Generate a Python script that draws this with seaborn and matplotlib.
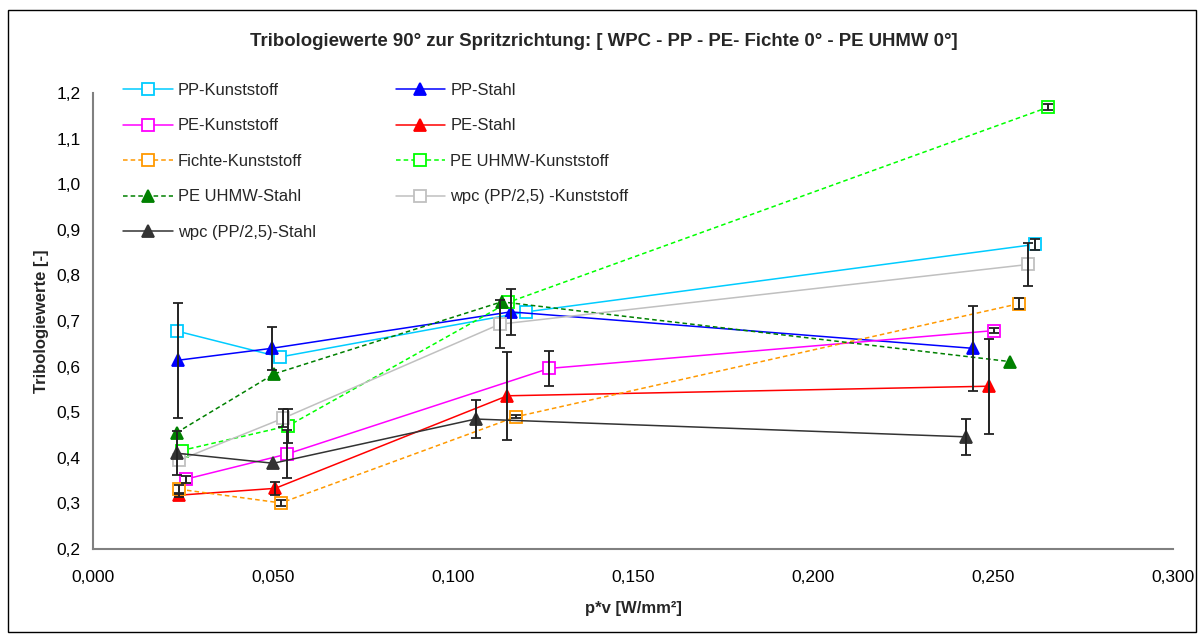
import numpy as np
import pandas as pd
import matplotlib
matplotlib.use("Agg")
import matplotlib.pyplot as plt
import seaborn as sns
from matplotlib.ticker import FuncFormatter, MultipleLocator
from matplotlib.patches import Rectangle

# ---------------- data ----------------
pp_k_x = [0.0233, 0.0519, 0.1203, 0.2617]
pp_k_y = [0.678, 0.621, 0.720, 0.868]
pp_k_e = [0.0, 0.0, 0.0, 0.012]

pp_s_x = [0.0237, 0.0496, 0.1160, 0.2445]
pp_s_y = [0.614, 0.640, 0.720, 0.640]
pp_s_e = [0.126, 0.047, 0.050, 0.093]

pe_k_x = [0.0257, 0.0538, 0.1267, 0.2503]
pe_k_y = [0.353, 0.408, 0.596, 0.679]
pe_k_e = [0.008, 0.053, 0.038, 0.005]

pe_s_x = [0.0239, 0.0506, 0.1151, 0.2489]
pe_s_y = [0.318, 0.333, 0.536, 0.557]
pe_s_e = [0.005, 0.015, 0.097, 0.104]

fi_k_x = [0.0240, 0.0522, 0.1175, 0.2572]
fi_k_y = [0.331, 0.301, 0.490, 0.738]
fi_k_e = [0.010, 0.006, 0.003, 0.012]

uh_k_x = [0.0246, 0.0542, 0.1154, 0.2654]
uh_k_y = [0.416, 0.470, 0.741, 1.169]
uh_k_e = [0.0, 0.037, 0.0, 0.006]

uh_s_x = [0.0232, 0.0503, 0.1135, 0.2547]
uh_s_y = [0.455, 0.584, 0.742, 0.611]
uh_s_e = [0.0, 0.0, 0.0, 0.0]

wpc_k_x = [0.0240, 0.0529, 0.1130, 0.2598]
wpc_k_y = [0.395, 0.487, 0.693, 0.824]
wpc_k_e = [0.0, 0.020, 0.052, 0.047]

wpc_s_x = [0.0234, 0.0501, 0.1063, 0.2424]
wpc_s_y = [0.410, 0.388, 0.485, 0.446]
wpc_s_e = [0.048, 0.0, 0.041, 0.039]

labels = ["PP-Kunststoff", "PP-Stahl", "PE-Kunststoff", "PE-Stahl",
          "Fichte-Kunststoff", "PE UHMW-Kunststoff", "PE UHMW-Stahl",
          "wpc (PP/2,5) -Kunststoff", "wpc (PP/2,5)-Stahl"]

title = "Tribologiewerte 90° zur Spritzrichtung: [ WPC - PP - PE- Fichte 0° - PE UHMW 0°]"
xlabel = "p*v [W/mm²]"
ylabel = "Tribologiewerte [-]"

# ---------------- styling ----------------
sns.set_style("white")
plt.rcParams["font.family"] = ["Liberation Sans", "DejaVu Sans"]

W, H = 1202, 635
fig = plt.figure(figsize=(W / 100, H / 100), dpi=100)
ax = fig.add_axes([93 / W, 1 - 549 / H, (1173 - 93) / W, (549 - 93) / H])

DASH = (0, (3, 2))
styles = [
    # x, y, err, label, color, linestyle, marker, facecolor
    (pp_k_x, pp_k_y, pp_k_e, labels[0], "#00CCFF", "-", "s", "white"),
    (pp_s_x, pp_s_y, pp_s_e, labels[1], "#0000FF", "-", "^", "#0000FF"),
    (pe_k_x, pe_k_y, pe_k_e, labels[2], "#FF00FF", "-", "s", "white"),
    (pe_s_x, pe_s_y, pe_s_e, labels[3], "#FF0000", "-", "^", "#FF0000"),
    (fi_k_x, fi_k_y, fi_k_e, labels[4], "#FF9900", DASH, "s", "white"),
    (uh_k_x, uh_k_y, uh_k_e, labels[5], "#00FF00", DASH, "s", "white"),
    (uh_s_x, uh_s_y, uh_s_e, labels[6], "#008000", DASH, "^", "#008000"),
    (wpc_k_x, wpc_k_y, wpc_k_e, labels[7], "#C0C0C0", "-", "s", "white"),
    (wpc_s_x, wpc_s_y, wpc_s_e, labels[8], "#333333", "-", "^", "#333333"),
]

for x, y, e, lab, col, ls, mk, fc in styles:
    df = pd.DataFrame({"x": x, "y": y})
    ms = 8 if mk == "s" else 9
    sns.lineplot(data=df, x="x", y="y", sort=False, estimator=None, ax=ax,
                 color=col, linestyle=ls, linewidth=1.1, marker=mk,
                 markersize=ms, markerfacecolor=fc, markeredgecolor=col,
                 markeredgewidth=1.3, label=lab, zorder=3)
    ex = [xi for xi, ei in zip(x, e) if ei > 0]
    ey = [yi for yi, ei in zip(y, e) if ei > 0]
    ee = [ei for ei in e if ei > 0]
    if ee:
        ax.errorbar(ex, ey, yerr=ee, fmt="none", ecolor="#222222",
                    elinewidth=1.4, capsize=3.6, capthick=1.3, zorder=4)

ax.set_xlim(0, 0.3)
ax.set_ylim(0.2, 1.2)
ax.xaxis.set_major_locator(MultipleLocator(0.05))
ax.yaxis.set_major_locator(MultipleLocator(0.1))
ax.xaxis.set_major_formatter(FuncFormatter(lambda v, p: f"{v:.3f}".replace(".", ",")))
ax.yaxis.set_major_formatter(FuncFormatter(lambda v, p: f"{v:.1f}".replace(".", ",")))
for s in ["top", "right"]:
    ax.spines[s].set_visible(False)
for s in ["left", "bottom"]:
    ax.spines[s].set_color("#808080")
    ax.spines[s].set_linewidth(1.5)
ax.tick_params(axis="both", direction="out", length=5, width=1, color="#808080",
               labelsize=12.5, labelcolor="black")
ax.tick_params(axis="x", pad=10)
ax.tick_params(axis="y", pad=4)
ax.set_xlabel(xlabel, fontsize=12, fontweight="bold", labelpad=12)
ax.set_ylabel(ylabel, fontsize=12, fontweight="bold", labelpad=5)
ax.grid(False)

fig.text(604 / W, 1 - 42 / H, title, ha="center", va="center",
         fontsize=13.4, fontweight="bold")

handles, labs = ax.get_legend_handles_labels()
hmap = dict(zip(labs, handles))
order = [labels[0], labels[2], labels[4], labels[6], labels[8],
         labels[1], labels[3], labels[5], labels[7]]
ax.legend([hmap[l] for l in order], order, ncol=2, frameon=False,
          loc="upper left", bbox_to_anchor=(123 / W, 1 - 83 / H),
          bbox_transform=fig.transFigure, borderpad=0, borderaxespad=0,
          handlelength=3.0, handletextpad=0.3, labelspacing=1.24,
          columnspacing=4.85, fontsize=11.9)

fig.patches.append(Rectangle((8 / W, 3 / H), 1188 / W, (625 - 3) / H,
                             transform=fig.transFigure, fill=False,
                             edgecolor="black", linewidth=1.0))

fig.savefig("out.png", dpi=100)
